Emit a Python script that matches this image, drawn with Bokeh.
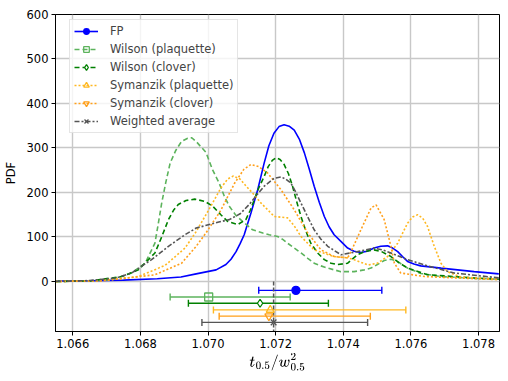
from bokeh.plotting import figure
from bokeh.models import (ColumnDataSource, Whisker, TeeHead, Legend, LegendItem,
                          FixedTicker, Range1d, PrintfTickFormatter)
from bokeh.embed import file_html
from bokeh.resources import INLINE

# ---- PDF curves ----
fp_x = [1.0655, 1.0665, 1.0675, 1.0685, 1.0692, 1.06965, 1.07024, 1.07053, 1.07068, 1.07083,
        1.07095, 1.07107, 1.07127, 1.07147, 1.07166, 1.0718, 1.07195, 1.0721, 1.07225, 1.0724,
        1.07255, 1.0727, 1.07285, 1.073, 1.07314, 1.07329, 1.07344, 1.07358, 1.07373, 1.07393,
        1.07413, 1.07432, 1.07452, 1.07471, 1.07491, 1.07511, 1.07531, 1.07546, 1.07561, 1.07575,
        1.0759, 1.07609, 1.07629, 1.07689, 1.07787, 1.0786]
fp_y = [1, 1.5, 3, 6, 10, 17, 26, 38, 50, 67,
        85, 105, 154, 206, 266, 305, 333, 348, 352, 349,
        340, 320, 289, 251, 214, 178, 146, 123, 105, 90,
        75, 68, 65, 68, 75, 79, 80, 75, 67, 56,
        45, 39, 35, 30, 22, 17]

wp_x = [1.0655, 1.0665, 1.06715, 1.06774, 1.06814, 1.06843, 1.06853, 1.06863, 1.06875, 1.06888,
        1.06905, 1.06922, 1.0694, 1.06952, 1.06968, 1.06994, 1.07014, 1.07033, 1.07048, 1.07063,
        1.07083, 1.07102, 1.07132, 1.07162, 1.07181, 1.07206, 1.0722, 1.07235, 1.07255,
        1.07275, 1.07295, 1.07314, 1.07334, 1.07354, 1.07393, 1.07432, 1.07462, 1.07482, 1.07501,
        1.07521, 1.07541, 1.0756, 1.0759, 1.07629, 1.07689, 1.07787, 1.0786]
wp_y = [0, 1, 4, 19, 41, 86, 130, 176, 222, 266,
        295, 315, 322, 323, 312, 290, 250, 221, 192, 169,
        148, 135, 116, 109, 105, 101, 95, 86, 75,
        64, 52, 41, 35, 30, 22, 22, 26, 30, 38,
        47, 50, 45, 30, 18, 11, 7, 5]

wc_x = [1.0655, 1.0665, 1.06745, 1.06794, 1.06843, 1.06863, 1.06883, 1.06898, 1.06912, 1.06935,
        1.06961, 1.06991, 1.07014, 1.07038, 1.07058, 1.07088, 1.07112, 1.07125, 1.07137, 1.0715,
        1.07166, 1.07178, 1.0719, 1.07201, 1.07213, 1.07225, 1.07238, 1.0725, 1.07262, 1.07275,
        1.0729, 1.07304, 1.07324, 1.07344, 1.07364, 1.07383, 1.07413, 1.07442, 1.07467, 1.07491,
        1.07516, 1.07541, 1.07565, 1.0759, 1.07649, 1.07787, 1.0786]
wc_y = [0, 1, 11, 26, 64, 100, 139, 160, 173, 182,
        185, 180, 169, 150, 135, 128, 139, 160, 184, 210,
        236, 258, 272, 278, 274, 263, 242, 214, 180, 146,
        112, 86, 64, 49, 41, 38, 41, 60, 68, 71,
        66, 56, 42, 30, 15, 8, 5]

sp_x = [1.0655, 1.06684, 1.06794, 1.06873, 1.06932, 1.06965, 1.07009, 1.07038, 1.07058, 1.07075,
        1.07095, 1.07112, 1.07135, 1.07157, 1.07196, 1.07235, 1.07255, 1.07275, 1.07314, 1.07372,
        1.07413, 1.07432, 1.07473, 1.07501, 1.07531, 1.07561, 1.0759, 1.07605, 1.0762, 1.07635,
        1.07649, 1.07669, 1.07689, 1.07708, 1.07748, 1.0786]
sp_y = [0, 2, 11, 36, 75, 112, 170, 210, 230, 237,
        230, 215, 196, 176, 146, 143, 125, 101, 71, 56,
        53, 49, 37, 41, 56, 86, 131, 145, 150, 142,
        124, 79, 41, 22, 10, 5]

sc_x = [1.0655, 1.06684, 1.06843, 1.06922, 1.06965, 1.06994, 1.07038, 1.07078, 1.07106, 1.07127,
        1.0715, 1.07176, 1.07216, 1.07255, 1.07295, 1.07334, 1.07373, 1.07413, 1.07423, 1.07452,
        1.07482, 1.07497, 1.07521, 1.07541, 1.07551, 1.0757, 1.0764, 1.0786]
sc_y = [0, 1, 15, 41, 79, 109, 160, 220, 252, 263,
        258, 244, 206, 161, 109, 71, 56, 53, 67, 116,
        165, 172, 139, 79, 41, 19, 11, 4]

wa_x = [1.0655, 1.0665, 1.0673, 1.06774, 1.06833, 1.06883, 1.06932, 1.06965, 1.07029, 1.07063,
        1.07095, 1.07122, 1.07145, 1.07166, 1.07196, 1.07216, 1.0723, 1.07245, 1.0726, 1.07275,
        1.07295, 1.07314, 1.07334, 1.07354, 1.07393, 1.07442, 1.07491, 1.07516, 1.07541, 1.0759,
        1.07649, 1.07728, 1.0786]
wa_y = [0, 2, 8, 19, 49, 79, 105, 120, 133, 139,
        152, 173, 195, 214, 232, 235, 230, 221, 200, 176,
        145, 116, 95, 79, 60, 67, 75, 71, 64, 49,
        35, 19, 8]

# ---- error bars: centre, low, high, vertical slot ----
labels = ["FP", "Wilson (plaquette)", "Wilson (clover)", "Symanzik (plaquette)",
          "Symanzik (clover)", "Weighted average"]
err_center = [1.07260, 1.07002, 1.07154, 1.07184, 1.07180, 1.07194]
err_low = [1.07150, 1.06888, 1.06942, 1.07016, 1.07033, 1.06982]
err_high = [1.07514, 1.07243, 1.07356, 1.07585, 1.07480, 1.07472]
err_y = [-20, -35, -49, -64, -78, -92]

x_ticks = [1.066, 1.068, 1.070, 1.072, 1.074, 1.076, 1.078]
y_ticks = [0, 100, 200, 300, 400, 500, 600]

curves = [(fp_x, fp_y), (wp_x, wp_y), (wc_x, wc_y), (sp_x, sp_y), (sc_x, sc_y), (wa_x, wa_y)]
colors = ["#0000ff", "#5cb35c", "#008000", "#ffb820", "#ff9f1a", "#555555"]
dashes = ["solid", "5 3", "5 3", "2 2", "2 2", "5 2 2 2"]
markers = ["circle", "square", "diamond", "triangle", "inverted_triangle", "x"]
fills = ["#0000ff", None, "white", None, None, None]

FONT = "DejaVu Sans"
y_bottom = -112.5

p = figure(width=501, height=373, output_backend="svg", toolbar_location=None,
           x_range=Range1d(1.06549, 1.07862), y_range=Range1d(y_bottom, 600),
           min_border_left=54, min_border_right=2, min_border_top=14, min_border_bottom=41)
p.background_fill_color = "white"
p.outline_line_color = "black"
p.outline_line_width = 1

for ax in (p.xaxis[0], p.yaxis[0]):
    ax.axis_line_color = "black"
    ax.major_tick_line_color = "black"
    ax.major_tick_out = 4
    ax.major_tick_in = 0
    ax.minor_tick_line_color = None
    ax.major_label_text_font = FONT
    ax.major_label_text_font_size = "11.5px"
    ax.major_label_text_color = "black"
    ax.axis_label_text_font = FONT
    ax.axis_label_text_font_size = "11.5px"
    ax.axis_label_text_font_style = "normal"
    ax.axis_label_text_color = "black"
    ax.major_label_standoff = 3

p.xaxis[0].ticker = FixedTicker(ticks=x_ticks)
p.xaxis[0].formatter = PrintfTickFormatter(format="%.3f")
p.yaxis[0].ticker = FixedTicker(ticks=y_ticks)
p.xaxis[0].axis_label = r"$$t_{0.5}/w_{0.5}^2$$"
p.yaxis[0].axis_label = "PDF"
p.xaxis[0].axis_label_standoff = 2
p.yaxis[0].axis_label_standoff = 6

p.xgrid.grid_line_color = "#c8c8c8"
p.ygrid.grid_line_color = "#c8c8c8"
p.xgrid.grid_line_width = 1.4
p.ygrid.grid_line_width = 1.4

# dashed marker of weighted average below zero
p.segment(x0=[err_center[5]], y0=[0], x1=[err_center[5]], y1=[y_bottom],
          line_color="#555555", line_width=1.5, line_dash="4 2")

items = []
for i in range(6):
    xs, ys = curves[i]
    lr = p.line(xs, ys, line_color=colors[i], line_width=1.6, line_dash=dashes[i])
    src = ColumnDataSource(dict(y=[err_y[i]], lo=[err_low[i]], hi=[err_high[i]],
                                x=[err_center[i]]))
    w = Whisker(source=src, base="y", lower="lo", upper="hi", dimension="width",
                line_color=colors[i], line_width=1.4,
                lower_head=TeeHead(size=7, line_color=colors[i], line_width=1.4),
                upper_head=TeeHead(size=7, line_color=colors[i], line_width=1.4))
    p.add_layout(w)
    if fills[i] is None:
        mr = p.scatter("x", "y", source=src, marker=markers[i], size=8,
                       line_color=colors[i], line_width=1.3, fill_alpha=0)
    else:
        mr = p.scatter("x", "y", source=src, marker=markers[i], size=8,
                       line_color=colors[i], line_width=1.3, fill_color=fills[i])
    items.append(LegendItem(label=labels[i], renderers=[lr, mr]))

legend = Legend(items=items, location=(14, 198), margin=0,
                label_text_font=FONT, label_text_font_size="11.5px",
                glyph_width=24, glyph_height=14, label_height=14, label_standoff=12,
                spacing=4, padding=4,
                border_line_color="#cccccc", border_line_width=1,
                background_fill_color="white", background_fill_alpha=0.8)
p.add_layout(legend)

open("out.html", "w").write(file_html(p, INLINE))
